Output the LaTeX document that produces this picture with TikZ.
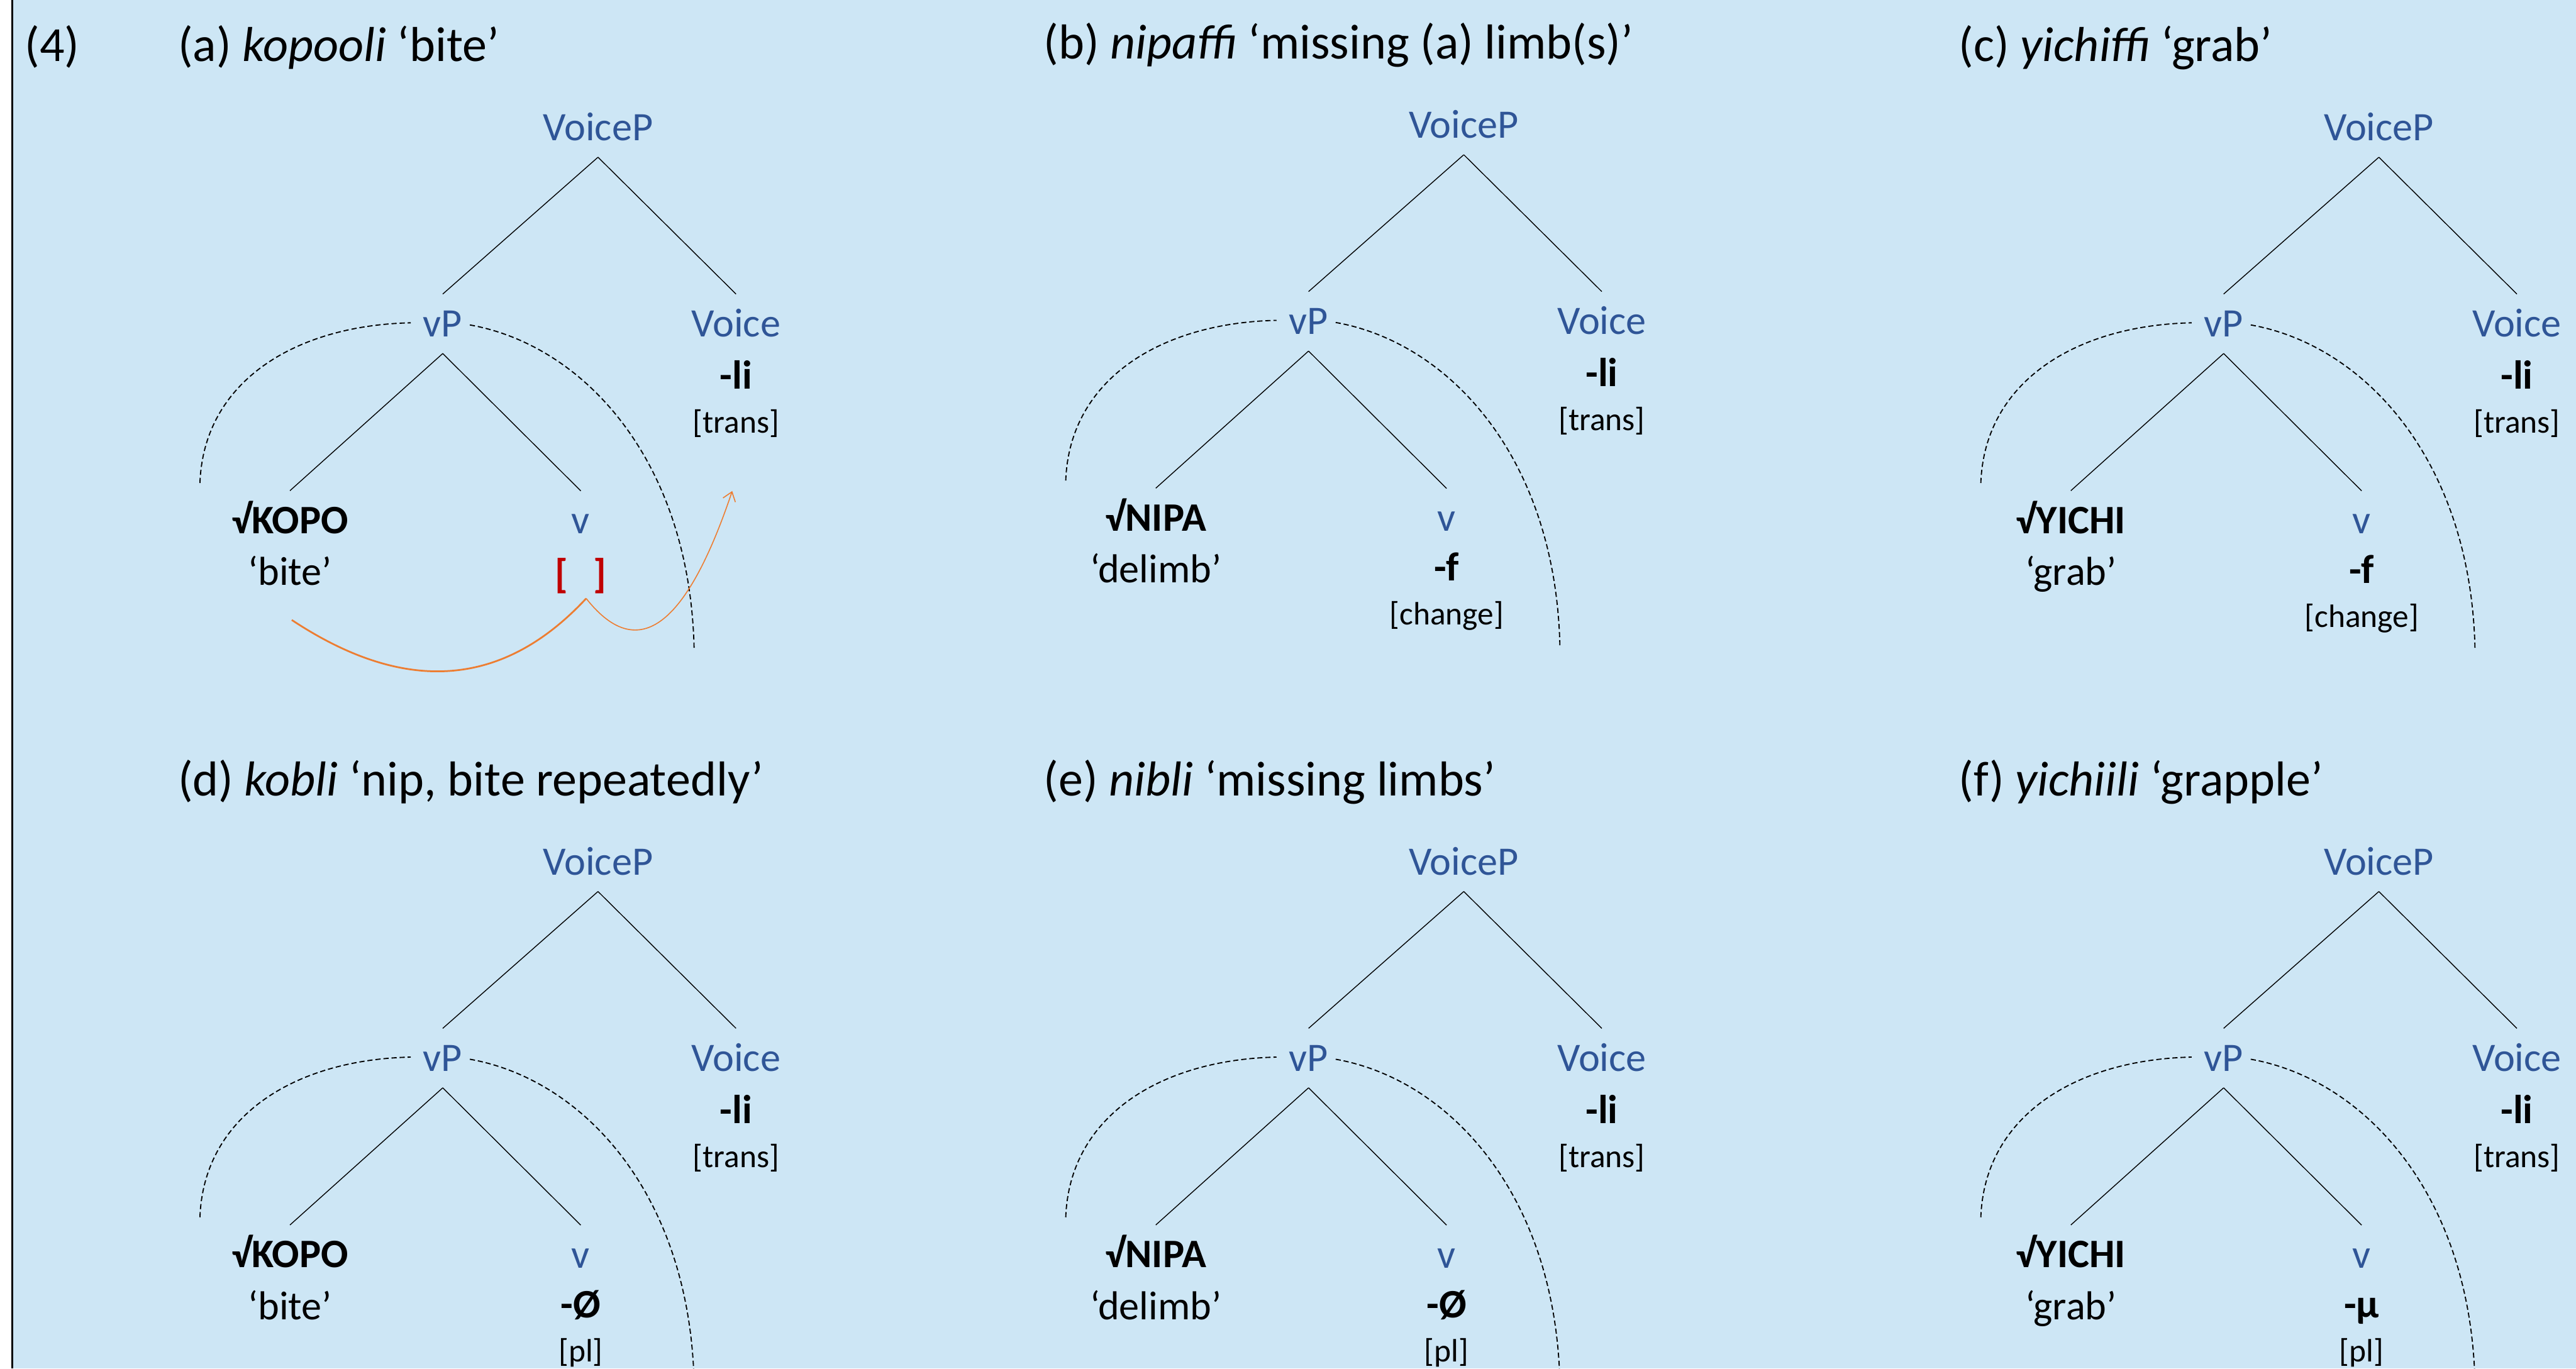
\documentclass[tikz,border=0pt]{standalone}
\usepackage{fontspec}
\setmainfont{Carlito}
\usetikzlibrary{arrows.meta}
\definecolor{bgblue}{RGB}{205,230,245}
\definecolor{catblue}{RGB}{47,85,151}
\definecolor{bracketred}{RGB}{192,0,0}
\definecolor{arroworange}{RGB}{237,125,49}
\tikzset{
  ttl/.style={anchor=base west,inner sep=0pt,font=\fontsize{17}{20}\selectfont},
  cat/.style={anchor=base,text=catblue,font=\fontsize{14}{16}\selectfont,text height=9pt,text depth=0pt,inner xsep=2pt,inner ysep=5.6pt},
  rootn/.style={anchor=base,font=\fontsize{14}{16}\selectfont\bfseries,text height=9pt,text depth=0pt,inner xsep=2pt,inner ysep=5.6pt},
  glos/.style={anchor=base,font=\fontsize{14}{16}\selectfont,inner sep=1pt},
  expn/.style={anchor=base,font=\fontsize{14}{16}\selectfont\bfseries,inner sep=1pt},
  featn/.style={anchor=base,font=\fontsize{11.2}{13}\selectfont,inner sep=1pt},
  branch/.style={draw=black,line width=0.3pt},
  dasharc/.style={draw=black,line width=0.4pt,dash pattern=on 1.8pt off 1pt},
}
\newcommand{\vtree}[8]{%
\begin{scope}[shift={(#2,#3)}]
  \node[ttl] (#1title) at (108,37.4) {#4};
  \node[cat] (#1VoiceP) at (364,85.5) {VoiceP};
  \node[cat] (#1vP) at (269.5,205) {vP};
  \node[cat] (#1Voice) at (448,205) {Voice};
  \node[expn] (#1li) at (448,236.7) {-li};
  \node[featn] (#1trans) at (448,263.5) {[trans]};
  \node[rootn] (#1root) at (176.5,324.7) {√#5};
  \node[glos] (#1gloss) at (176.5,356.3) {‘#6’};
  \node[cat] (#1v) at (353.5,324.8) {v};
  \node[expn] (#1exp) at (353.5,355) {#7};
  \node[featn] (#1feat) at (353.5,382) {#8};
  \draw[branch] (#1VoiceP.south) -- (#1vP.north);
  \draw[branch] (#1VoiceP.south) -- (#1Voice.north);
  \draw[branch] (#1vP.south) -- (#1root.north);
  \draw[branch] (#1vP.south) -- (#1v.north);
  \draw[dasharc] (121.7,294) .. controls (124,232) and (180,198) .. (250,196.5);
  \draw[dasharc] (286,197.8) .. controls (355,210) and (420,280) .. (422.5,395);
\end{scope}}
\begin{document}
\begin{tikzpicture}[x=0.02cm,y=-0.02cm]
\useasboundingbox (0,0) rectangle (1568,833);
\clip (0,0) rectangle (1568,833);
\fill[white] (0,0) rectangle (7.5,833);
\fill[bgblue] (7.5,0) rectangle (1568,833);
\draw[line width=0.6pt] (7.5,0) -- (7.5,833);
\node[ttl] (exnum) at (14.8,37.4) {(4)};
\vtree{a}{0}{0}{(a) \textit{kopooli} ‘bite’}{KOPO}{bite}{\raisebox{-1.5pt}{\textcolor{bracketred}{[\hspace{0.62em}]}}}{}
\vtree{b}{527}{-1.5}{(b) \textit{nipaffi} ‘missing (a) limb(s)’}{NIPA}{delimb}{-f}{[change]}
\vtree{c}{1084}{0}{(c) \textit{yichiffi} ‘grab’}{YICHI}{grab}{-f}{[change]}
\vtree{d}{0}{447}{(d) \textit{kobli} ‘nip, bite repeatedly’}{KOPO}{bite}{-Ø}{[pl]}
\vtree{e}{527}{447}{(e) \textit{nibli} ‘missing limbs’}{NIPA}{delimb}{-Ø}{[pl]}
\vtree{f}{1084}{447}{(f) \textit{yichiili} ‘grapple’}{YICHI}{grab}{-μ}{[pl]}
\coordinate (arrStart) at (177.6,377.4);
\coordinate (arrKink) at (356.8,364.3);
\coordinate (arrEnd) at (445.7,298.9);
\draw[arroworange,line width=0.6pt] (arrStart) .. controls (245,422) and (305,420) .. (arrKink);
\draw[arroworange,line width=0.35pt,-{Straight Barb[length=3pt,width=4.5pt]}] (arrKink) .. controls (385,400) and (415,390) .. (arrEnd);
\end{tikzpicture}
\end{document}
